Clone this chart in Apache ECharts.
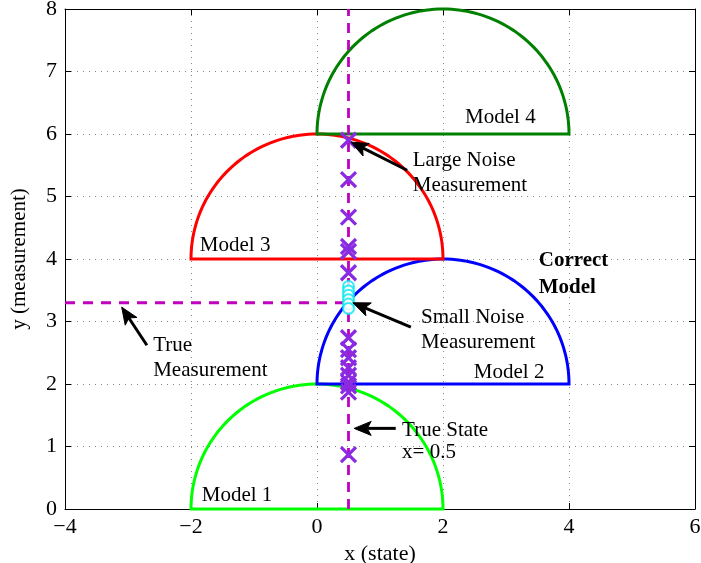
<!DOCTYPE html>
<html>
<head>
<meta charset="utf-8">
<script src="https://cdn.jsdelivr.net/npm/echarts@6/dist/echarts.min.js"></script>
<style>html,body{margin:0;padding:0;background:#fff}#c{width:701px;height:563px}</style>
</head>
<body>
<div id="c"></div>
<script>
// ---- data ----
const xTicks = [-4, -2, 0, 2, 4, 6];
const yTicks = [0, 1, 2, 3, 4, 5, 6, 7, 8];
const modelNames = ['Model 1', 'Model 2', 'Model 3', 'Model 4'];
const modelCenterX = [0, 2, 0, 2];
const modelCenterY = [0, 2, 4, 6];
const modelRadius = [2, 2, 2, 2];
const trueState = 0.5;
const trueMeasurement = 3.3;
const largeNoiseY = [5.90, 5.27, 4.67, 4.20, 4.12, 3.78, 2.74, 2.55, 2.42, 2.26, 2.14, 2.03, 1.97, 1.87, 0.87];
const smallNoiseY = [3.56, 3.49, 3.42, 3.35, 3.28, 3.21];
// annotation arrows: [tailX, tailY, headX, headY]
const arrows = [
  [1.43, 5.42, 0.54, 5.87],
  [1.49, 2.91, 0.57, 3.30],
  [-2.70, 2.62, -3.10, 3.23],
  [1.25, 1.29, 0.59, 1.29]
];
// text annotations: [x, y, text, bold]
const notes = [
  [-1.83, 0.22, 'Model 1', false],
  [2.49, 2.19, 'Model 2', false],
  [-1.86, 4.21, 'Model 3', false],
  [2.35, 6.27, 'Model 4', false],
  [1.52, 5.57, 'Large Noise', false],
  [1.52, 5.17, 'Measurement', false],
  [1.65, 3.06, 'Small Noise', false],
  [1.65, 2.66, 'Measurement', false],
  [3.52, 3.97, 'Correct', true],
  [3.52, 3.54, 'Model', true],
  [-2.60, 2.62, 'True', false],
  [-2.60, 2.22, 'Measurement', false],
  [1.35, 1.26, 'True State', false],
  [1.35, 0.91, 'x= 0.5', false]
];

// ---- style ----
const modelColors = ['#00ff00', '#0000ff', '#ff0000', '#008000'];
const FONT = '"Liberation Serif", "Times New Roman", serif';

const chart = echarts.init(document.getElementById('c'), null, {renderer: 'canvas'});

const semicircleSeries = modelNames.map((name, i) => ({
  type: 'custom',
  name: name,
  z: 2,
  data: [[modelCenterX[i], modelCenterY[i], modelRadius[i]]],
  renderItem: function (params, api) {
    const cx = api.value(0), cy = api.value(1), r = api.value(2);
    const pts = [];
    const N = 90;
    for (let k = 0; k <= N; k++) {
      const t = Math.PI * k / N;
      pts.push(api.coord([cx + r * Math.cos(t), cy + r * Math.sin(t)]));
    }
    return {
      type: 'polygon',
      shape: {points: pts},
      style: {fill: 'none', stroke: modelColors[i], lineWidth: 3}
    };
  }
}));

const tickStyle = {show: true, inside: true, length: 6, lineStyle: {color: '#000'}};
const lineStyleAxis = {show: true, onZero: false, lineStyle: {color: '#000', width: 1}};
const gridLine = {show: true, lineStyle: {color: '#888', type: [1, 5], width: 1}};

const option = {
  animation: false,
  backgroundColor: '#fff',
  grid: {left: 65, right: 6, top: 9, bottom: 54, containLabel: false, outerBoundsMode: 'none'},
  xAxis: [{
    type: 'value', min: -4, max: 6, interval: 2,
    name: 'x (state)', nameLocation: 'middle', nameGap: 33,
    nameTextStyle: {fontFamily: FONT, fontSize: 22, color: '#000'},
    axisLine: lineStyleAxis,
    axisTick: tickStyle,
    axisLabel: {fontFamily: FONT, fontSize: 22, color: '#000', margin: 7,
      formatter: v => xTicks.includes(v) ? String(v).replace('-', '\u2212') : ''},
    splitLine: gridLine
  }, {
    type: 'value', min: -4, max: 6, interval: 2, position: 'top',
    axisLine: lineStyleAxis,
    axisTick: tickStyle,
    axisLabel: {show: false}, splitLine: {show: false}
  }],
  yAxis: [{
    type: 'value', min: 0, max: 8, interval: 1,
    name: 'y (measurement)', nameLocation: 'middle', nameGap: 35, nameRotate: 90,
    nameTextStyle: {fontFamily: FONT, fontSize: 21, color: '#000'},
    axisLine: lineStyleAxis,
    axisTick: tickStyle,
    axisLabel: {fontFamily: FONT, fontSize: 22, color: '#000', margin: 8,
      formatter: v => yTicks.includes(v) ? String(v) : ''},
    splitLine: gridLine
  }, {
    type: 'value', min: 0, max: 8, interval: 1, position: 'right',
    axisLine: lineStyleAxis,
    axisTick: tickStyle,
    axisLabel: {show: false}, splitLine: {show: false}
  }],
  series: [
    ...semicircleSeries,
    {
      type: 'line', name: 'True State', z: 3, symbol: 'none',
      data: [[trueState, 0], [trueState, 8]],
      lineStyle: {color: '#bf00bf', width: 2.8, type: [10, 7]}
    },
    {
      type: 'line', name: 'True Measurement', z: 3, symbol: 'none',
      data: [[-4, trueMeasurement], [trueState, trueMeasurement]],
      lineStyle: {color: '#bf00bf', width: 2.8, type: [10, 8]}
    },
    {
      type: 'scatter', name: 'Large Noise', z: 4,
      symbol: 'path://M0,0L10,10M0,10L10,0',
      symbolSize: 15,
      data: largeNoiseY.map(y => [trueState, y]),
      itemStyle: {color: 'none', borderColor: '#8a2be2', borderWidth: 3.2, opacity: 1}
    },
    {
      type: 'scatter', name: 'Small Noise', z: 5,
      symbol: 'emptyCircle',
      symbolSize: 11,
      data: smallNoiseY.map(y => [trueState, y]),
      itemStyle: {color: '#00e8f0', borderColor: '#00e8f0', borderWidth: 3}
    },
    {
      type: 'custom', name: 'arrows', z: 6,
      data: arrows,
      renderItem: function (params, api) {
        const tail = api.coord([api.value(0), api.value(1)]);
        const head = api.coord([api.value(2), api.value(3)]);
        const dx = head[0] - tail[0], dy = head[1] - tail[1];
        const L = Math.sqrt(dx * dx + dy * dy);
        const ux = dx / L, uy = dy / L;
        const hl = 17, hw = 7;
        const bx = head[0] - ux * hl, by = head[1] - uy * hl;
        return {
          type: 'group',
          children: [{
            type: 'line',
            shape: {x1: tail[0], y1: tail[1], x2: bx + ux * 4, y2: by + uy * 4},
            style: {stroke: '#000', lineWidth: 3}
          }, {
            type: 'polygon',
            shape: {points: [head, [bx - uy * hw, by + ux * hw], [bx + ux * 4, by + uy * 4], [bx + uy * hw, by - ux * hw]]},
            style: {fill: '#000', stroke: '#000', lineWidth: 1}
          }]
        };
      }
    },
    {
      type: 'custom', name: 'notes', z: 7,
      data: notes.map(n => [n[0], n[1]]),
      renderItem: function (params, api) {
        const p = api.coord([api.value(0), api.value(1)]);
        const n = notes[params.dataIndex];
        return {
          type: 'text',
          x: p[0], y: p[1],
          style: {
            text: n[2], fill: '#000',
            font: (n[3] ? 'bold ' : '') + '21px ' + FONT,
            textAlign: 'left', textVerticalAlign: 'middle'
          }
        };
      }
    }
  ]
};
chart.setOption(option);
</script>
</body>
</html>
